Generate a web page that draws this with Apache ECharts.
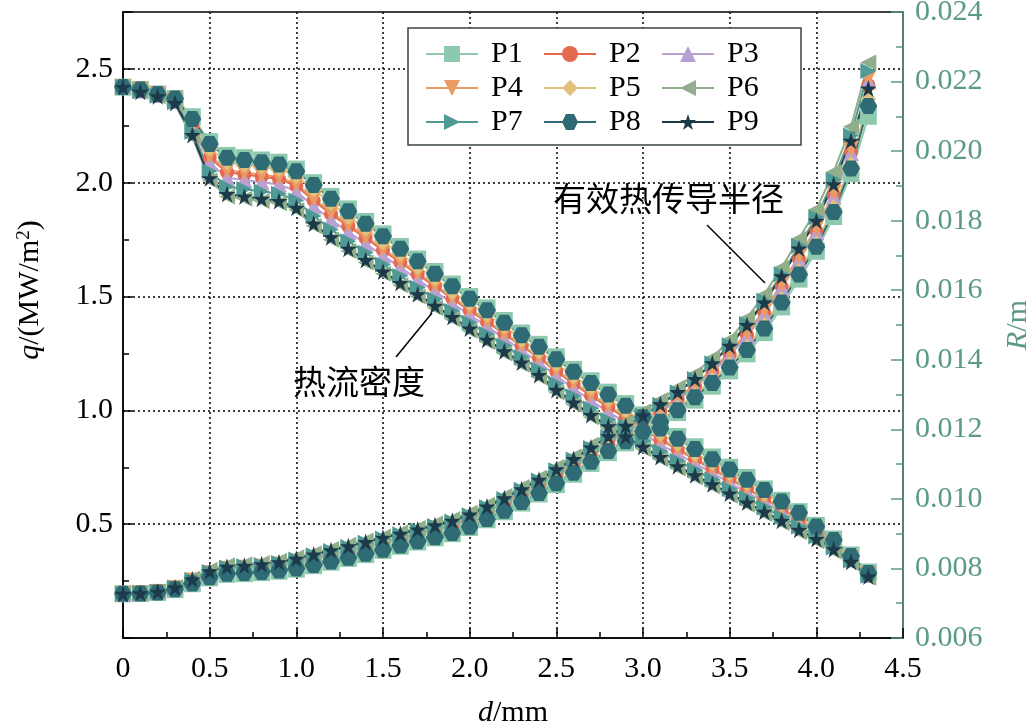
<!DOCTYPE html>
<html>
<head>
<meta charset="utf-8">
<title>q / R vs d</title>
<script src="https://cdn.jsdelivr.net/npm/echarts@6/dist/echarts.min.js"></script>
<style>
	html, body { margin: 0; padding: 0; background: #fff; }
	#chart { width: 1034px; height: 726px; }
</style>
</head>
<body>
<div id="chart"></div>
<script>
// distance from surface, mm
var dVals = [0,0.1,0.2,0.3,0.4,0.5,0.6,0.7,0.8,0.9,1.0,1.1,1.2,1.3,1.4,1.5,1.6,1.7,1.8,1.9,2.0,2.1,2.2,2.3,2.4,2.5,2.6,2.7,2.8,2.9,3.0,3.1,3.2,3.3,3.4,3.5,3.6,3.7,3.8,3.9,4.0,4.1,4.2,4.3];

// heat flux q, MW/m2 (left axis)
var qP1 = [2.42,2.41,2.39,2.37,2.29,2.18,2.12,2.11,2.10,2.09,2.06,2.00,1.94,1.885,1.83,1.775,1.72,1.665,1.61,1.555,1.50,1.45,1.395,1.34,1.29,1.235,1.18,1.13,1.08,1.03,0.98,0.93,0.885,0.84,0.795,0.75,0.705,0.655,0.605,0.555,0.495,0.435,0.365,0.29];
var qP2 = [2.42,2.406,2.386,2.362,2.252,2.11,2.046,2.036,2.026,2.016,1.986,1.922,1.862,1.809,1.756,1.703,1.65,1.597,1.544,1.491,1.438,1.388,1.335,1.282,1.23,1.171,1.116,1.064,1.014,0.966,0.918,0.87,0.827,0.784,0.741,0.698,0.655,0.612,0.566,0.52,0.468,0.414,0.35,0.279];
var qP3 = [2.42,2.405,2.385,2.359,2.242,2.088,2.022,2.012,2.002,1.992,1.962,1.897,1.837,1.784,1.732,1.68,1.628,1.575,1.523,1.471,1.419,1.369,1.316,1.264,1.211,1.151,1.096,1.043,0.993,0.946,0.899,0.851,0.809,0.767,0.725,0.682,0.64,0.598,0.553,0.509,0.46,0.408,0.346,0.277];
var qP4 = [2.42,2.41,2.39,2.365,2.255,2.12,2.055,2.045,2.035,2.025,1.995,1.93,1.87,1.817,1.764,1.71,1.657,1.604,1.551,1.498,1.445,1.395,1.341,1.288,1.236,1.178,1.123,1.071,1.021,0.973,0.925,0.876,0.833,0.79,0.747,0.703,0.66,0.617,0.57,0.524,0.47,0.416,0.351,0.28];
var qP5 = [2.42,2.41,2.39,2.37,2.27,2.15,2.09,2.08,2.07,2.06,2.03,1.97,1.91,1.85,1.80,1.74,1.69,1.63,1.58,1.52,1.47,1.42,1.37,1.31,1.26,1.205,1.15,1.10,1.05,1.00,0.95,0.90,0.855,0.81,0.77,0.725,0.68,0.635,0.59,0.54,0.48,0.425,0.355,0.28];
var qP6 = [2.42,2.40,2.38,2.345,2.20,2.01,1.94,1.93,1.92,1.91,1.88,1.81,1.75,1.70,1.65,1.60,1.55,1.50,1.45,1.40,1.35,1.30,1.25,1.20,1.145,1.08,1.025,0.97,0.92,0.875,0.83,0.785,0.745,0.705,0.665,0.625,0.585,0.545,0.505,0.465,0.425,0.38,0.33,0.265];
var qP7 = [2.42,2.402,2.382,2.354,2.224,2.05,1.982,1.972,1.962,1.952,1.922,1.854,1.794,1.743,1.692,1.641,1.59,1.539,1.488,1.437,1.386,1.336,1.285,1.234,1.18,1.117,1.062,1.008,0.958,0.912,0.866,0.82,0.779,0.738,0.697,0.656,0.615,0.574,0.532,0.49,0.446,0.398,0.34,0.273];
var qP8 = [2.42,2.41,2.39,2.37,2.28,2.17,2.11,2.10,2.09,2.08,2.05,1.99,1.93,1.875,1.82,1.765,1.71,1.655,1.60,1.545,1.49,1.44,1.385,1.33,1.28,1.225,1.17,1.12,1.07,1.02,0.97,0.92,0.875,0.83,0.785,0.74,0.695,0.65,0.60,0.55,0.49,0.43,0.36,0.285];
var qP9 = [2.42,2.40,2.38,2.35,2.21,2.02,1.95,1.94,1.93,1.92,1.89,1.82,1.76,1.71,1.66,1.61,1.56,1.51,1.46,1.41,1.36,1.31,1.26,1.21,1.155,1.09,1.035,0.98,0.93,0.885,0.84,0.795,0.755,0.715,0.675,0.635,0.595,0.555,0.515,0.475,0.435,0.39,0.335,0.27];

// effective conduction radius R, m (right axis)
var rP1 = [0.00727,0.00728,0.00731,0.00739,0.00756,0.00773,0.00783,0.00785,0.00788,0.00792,0.00798,0.00808,0.00818,0.00829,0.00840,0.00852,0.00864,0.00876,0.00888,0.00900,0.00918,0.00940,0.00963,0.00988,0.01014,0.01041,0.01071,0.01102,0.01133,0.01161,0.01188,0.01216,0.01248,0.01284,0.01324,0.01368,0.01417,0.01478,0.01552,0.01632,0.01712,0.01812,0.01935,0.02100];
var rP2 = [0.00727,0.00729,0.00732,0.00743,0.00764,0.00785,0.00797,0.00800,0.00803,0.00808,0.00817,0.00828,0.00839,0.00851,0.00862,0.00874,0.00886,0.00898,0.00910,0.00923,0.00941,0.00964,0.00988,0.01013,0.01040,0.01069,0.01099,0.01132,0.01163,0.01192,0.01222,0.01252,0.01286,0.01324,0.01367,0.01415,0.01471,0.01535,0.01610,0.01690,0.01770,0.01873,0.01998,0.02190];
var rP3 = [0.00727,0.00729,0.00732,0.00743,0.00763,0.00784,0.00796,0.00799,0.00802,0.00807,0.00815,0.00826,0.00838,0.00849,0.00861,0.00873,0.00885,0.00897,0.00909,0.00921,0.00939,0.00962,0.00986,0.01011,0.01038,0.01067,0.01097,0.01130,0.01161,0.01190,0.01219,0.01250,0.01284,0.01321,0.01364,0.01412,0.01468,0.01531,0.01606,0.01686,0.01766,0.01869,0.01994,0.02200];
var rP4 = [0.00727,0.00729,0.00732,0.00744,0.00765,0.00787,0.00799,0.00802,0.00805,0.00811,0.00820,0.00831,0.00842,0.00854,0.00866,0.00878,0.00890,0.00902,0.00914,0.00927,0.00945,0.00967,0.00991,0.01017,0.01044,0.01073,0.01103,0.01136,0.01167,0.01197,0.01226,0.01257,0.01291,0.01329,0.01373,0.01421,0.01478,0.01543,0.01618,0.01698,0.01778,0.01881,0.02006,0.02210];
var rP5 = [0.00727,0.00728,0.00731,0.00741,0.00758,0.00777,0.00787,0.00789,0.00792,0.00796,0.00803,0.00813,0.00823,0.00834,0.00845,0.00857,0.00869,0.00881,0.00893,0.00905,0.00923,0.00945,0.00969,0.00994,0.01021,0.01049,0.01079,0.01111,0.01142,0.01171,0.01199,0.01228,0.01262,0.01299,0.01341,0.01387,0.01437,0.01500,0.01575,0.01655,0.01735,0.01838,0.01962,0.02150];
var rP6 = [0.00727,0.00729,0.00734,0.00747,0.00771,0.00796,0.00809,0.00812,0.00816,0.00822,0.00832,0.00844,0.00856,0.00868,0.00880,0.00892,0.00904,0.00916,0.00929,0.00942,0.00960,0.00983,0.01008,0.01034,0.01061,0.01092,0.01122,0.01156,0.01189,0.01220,0.01251,0.01284,0.01320,0.01360,0.01406,0.01458,0.01520,0.01588,0.01665,0.01748,0.01832,0.01940,0.02070,0.02255];
var rP7 = [0.00727,0.00729,0.00733,0.00745,0.00767,0.00790,0.00803,0.00806,0.00810,0.00816,0.00826,0.00838,0.00850,0.00862,0.00874,0.00886,0.00898,0.00910,0.00922,0.00935,0.00953,0.00976,0.01000,0.01026,0.01053,0.01082,0.01113,0.01146,0.01178,0.01209,0.01239,0.01271,0.01306,0.01345,0.01390,0.01442,0.01503,0.01570,0.01646,0.01728,0.01810,0.01918,0.02045,0.02230];
var rP8 = [0.00727,0.00728,0.00731,0.00740,0.00757,0.00775,0.00785,0.00787,0.00790,0.00794,0.00800,0.00810,0.00820,0.00831,0.00842,0.00854,0.00866,0.00878,0.00890,0.00902,0.00920,0.00942,0.00966,0.00991,0.01017,0.01045,0.01075,0.01107,0.01138,0.01166,0.01194,0.01222,0.01255,0.01292,0.01333,0.01378,0.01428,0.01490,0.01565,0.01645,0.01725,0.01825,0.01950,0.02130];
var rP9 = [0.00727,0.00729,0.00733,0.00745,0.00768,0.00792,0.00805,0.00808,0.00812,0.00818,0.00828,0.00840,0.00852,0.00864,0.00876,0.00888,0.00900,0.00912,0.00924,0.00937,0.00955,0.00978,0.01002,0.01028,0.01055,0.01085,0.01115,0.01148,0.01180,0.01210,0.01240,0.01272,0.01307,0.01345,0.01390,0.01440,0.01500,0.01565,0.01640,0.01720,0.01800,0.01905,0.02030,0.02180];

var names = ["P1", "P2", "P3", "P4", "P5", "P6", "P7", "P8", "P9"];
var qSets = [qP1, qP2, qP3, qP4, qP5, qP6, qP7, qP8, qP9];
var rSets = [rP1, rP2, rP3, rP4, rP5, rP6, rP7, rP8, rP9];

var serif = "'Liberation Serif', 'Times New Roman', serif";
var teal = "#5b9a8a";
var hexagon = "path://M-1,0 L-0.5,-0.866 L0.5,-0.866 L1,0 L0.5,0.866 L-0.5,0.866 Z";
var star = "path://M0,-1 L0.2245,-0.309 L0.951,-0.309 L0.3633,0.118 L0.5878,0.809 L0,0.382 L-0.5878,0.809 L-0.3633,0.118 L-0.951,-0.309 L-0.2245,-0.309 Z";
var colors = ["#8ec9ae", "#e4694f", "#b9a0d2", "#eb9a63", "#e0c27d", "#8fae8a", "#4f9a94", "#2f6b74", "#1d3a4b"];
var symbols = ["rect", "circle", "triangle", "triangle", "diamond", "triangle", "triangle", hexagon, star];
var rotates = [0, 0, 0, 180, 0, 90, -90, 0, 0];
var sizes = [17, 14, 16, 16, 16, 16, 16, [18, 16], 17];

function pairs(ys) {
	return dVals.map(function(d, i) { return [d, ys[i]]; });
}

var series = [];
names.forEach(function(n, i) {
	[qSets[i], rSets[i]].forEach(function(ys, k) {
		series.push({
			name: n,
			type: "line",
			yAxisIndex: k,
			data: pairs(ys),
			symbol: symbols[i],
			symbolRotate: rotates[i],
			symbolSize: sizes[i],
			showAllSymbol: true,
			lineStyle: { color: colors[i], width: 2 },
			itemStyle: { color: colors[i] },
			emphasis: { disabled: true }
		});
	});
});

var chart = echarts.init(document.getElementById("chart"));
chart.setOption({
	animation: false,
	backgroundColor: "#fff",
	textStyle: { fontFamily: serif },
	grid: { left: 123, right: 131, top: 12, bottom: 88, outerBoundsMode: "none", containLabel: false, show: true, borderColor: "#000", borderWidth: 1.5 },
	legend: {
		data: names,
		left: 408,
		top: 28,
		width: 360,
		itemGap: 0,
		itemWidth: 52,
		itemHeight: 20,
		padding: [9, 22, 6, 17],
		borderColor: "#3a4444",
		borderWidth: 1.5,
		backgroundColor: "#fff",
		textStyle: { fontFamily: serif, fontSize: 30, color: "#000", lineHeight: 34, width: 52, padding: [0, 0, 0, 8] }
	},
	xAxis: {
		type: "value",
		min: 0,
		max: 4.5,
		interval: 0.5,
		name: "{i|d}/mm",
		nameLocation: "middle",
		nameGap: 60,
		nameTextStyle: {
			fontFamily: serif, fontSize: 30, color: "#000",
			rich: { i: { fontFamily: serif, fontSize: 30, fontStyle: "italic", color: "#000" } }
		},
		axisLine: { lineStyle: { color: "#000", width: 1.5 } },
		axisTick: { inside: true, length: 10, lineStyle: { color: "#000", width: 1.5 } },
		minorTick: { show: true, splitNumber: 2, length: 6, lineStyle: { color: "#000", width: 1.5 } },
		axisLabel: {
			fontFamily: serif, fontSize: 30, color: "#000", margin: 16,
			formatter: function(v) { return v === 0 ? "0" : v.toFixed(1); }
		},
		splitLine: { show: true, showMinLine: false, showMaxLine: false, lineStyle: { color: "#000", type: [2, 3], width: 1.5 } }
	},
	yAxis: [{
		type: "value",
		min: 0,
		max: 2.75,
		interval: 0.5,
		name: "{i|q}/(MW/m{s|2})",
		nameLocation: "middle",
		nameGap: 78,
		nameTextStyle: {
			fontFamily: serif, fontSize: 30, color: "#000", padding: [0, 0, 0, 70],
			rich: {
				i: { fontFamily: serif, fontSize: 30, fontStyle: "italic", color: "#000" },
				s: { fontFamily: serif, fontSize: 19, verticalAlign: "top", color: "#000" }
			}
		},
		axisLine: { lineStyle: { color: "#000", width: 1.5 } },
		axisTick: { inside: true, length: 10, lineStyle: { color: "#000", width: 1.5 } },
		minorTick: { show: true, splitNumber: 2, length: 6, lineStyle: { color: "#000", width: 1.5 } },
		axisLabel: {
			fontFamily: serif, fontSize: 30, color: "#000", margin: 10,
			showMinLabel: false, showMaxLabel: false,
			formatter: function(v) { return v.toFixed(1); }
		},
		splitLine: { show: true, showMinLine: false, showMaxLine: false, lineStyle: { color: "#000", type: [2, 3], width: 1.5 } }
	}, {
		type: "value",
		position: "right",
		min: 0.006,
		max: 0.024,
		interval: 0.002,
		name: "{i|R}/m",
		nameLocation: "middle",
		nameGap: 100,
		nameTextStyle: {
			fontFamily: serif, fontSize: 30, color: teal,
			rich: { i: { fontFamily: serif, fontSize: 30, fontStyle: "italic", color: teal } }
		},
		axisLine: { show: true, lineStyle: { color: teal, width: 1.5 } },
		axisTick: { inside: true, length: 12, lineStyle: { color: teal, width: 1.5 } },
		minorTick: { show: true, splitNumber: 2, length: 7, lineStyle: { color: teal, width: 1.5 } },
		axisLabel: {
			fontFamily: serif, fontSize: 30, color: teal, margin: 12,
			formatter: function(v) { return v.toFixed(3); }
		},
		splitLine: { show: false }
	}],
	graphic: [
		{ type: "line", shape: { x1: 707, y1: 225, x2: 765, y2: 283 }, style: { stroke: "#000", lineWidth: 1.5 }, z: 100 },
		{ type: "line", shape: { x1: 396, y1: 357, x2: 432, y2: 313 }, style: { stroke: "#000", lineWidth: 1.5 }, z: 100 },
		{ type: "text", left: 553, top: 182, style: { text: "有效热传导半径", font: "33px 'Noto Sans CJK SC'", fill: "#000" }, z: 100 },
		{ type: "text", left: 293, top: 365, style: { text: "热流密度", font: "33px 'Noto Sans CJK SC'", fill: "#000" }, z: 100 }
	],
	series: series
});
</script>
</body>
</html>
